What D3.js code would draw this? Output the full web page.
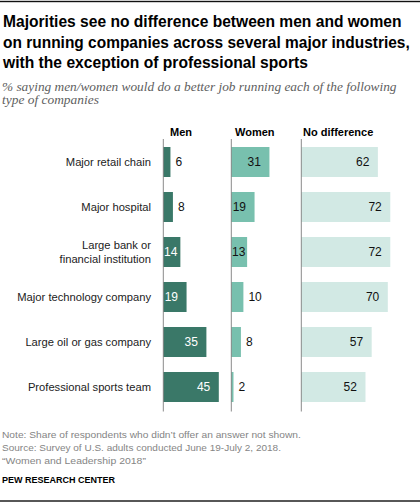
<!DOCTYPE html>
<html>
<head>
<meta charset="utf-8">
<script src="https://cdn.jsdelivr.net/npm/d3@7/dist/d3.min.js"></script>
<style>
  html, body { margin: 0; padding: 0; background: #fff; }
  svg { display: block; }
</style>
</head>
<body>
<svg id="chart" width="420" height="503"></svg>
<script>
// ---- Data ----
const categories = [
  "Major retail chain",
  "Major hospital",
  "Large bank or\nfinancial institution",
  "Major technology company",
  "Large oil or gas company",
  "Professional sports team"
];
const seriesNames = ["Men", "Women", "No difference"];
const menValues = [6, 8, 14, 19, 35, 45];
const womenValues = [31, 19, 13, 10, 8, 2];
const noDiffValues = [62, 72, 72, 70, 57, 52];

const titleLines = [
  "Majorities see no difference between men and women",
  "on running companies across several major industries,",
  "with the exception of professional sports"
];
const subtitleLines = [
  "% saying men/women would do a better job running each of the following",
  "type of companies"
];
const noteLines = [
  "Note: Share of respondents who didn\u2019t offer an answer not shown.",
  "Source: Survey of U.S. adults conducted June 19-July 2, 2018.",
  "\u201cWomen and Leadership 2018\u201d"
];
const sourceLabel = "PEW RESEARCH CENTER";

// ---- Layout ----
const W = 420, H = 503;
const svg = d3.select("#chart");
const sans = "'Liberation Sans', Arial, sans-serif";
const serif = "'Liberation Serif', 'Times New Roman', serif";

// fit a text line horizontally to a target width by scaling
function fitLines(lines, opts) {
  const g = svg.append("g");
  lines.forEach((ln, i) => {
    const wrap = g.append("g");
    const t = wrap.append("text")
      .attr("x", 0).attr("y", 0)
      .attr("font-family", opts.family).attr("font-size", opts.size)
      .attr("font-weight", opts.weight || "normal")
      .attr("font-style", opts.style || "normal")
      .attr("fill", opts.fill)
      .text(ln);
    const len = t.node().getComputedTextLength();
    const sx = opts.widths[i] / len;
    wrap.attr("transform", `translate(${opts.x},${opts.y0 + i * opts.lh}) scale(${sx},1)`);
  });
}

const series = [
  { name: seriesNames[0], values: menValues, x0: 163, color: "#3a7868", inText: "#fff", headDx: 7 },
  { name: seriesNames[1], values: womenValues, x0: 231, color: "#78c0ae", inText: "#111", headDx: 4 },
  { name: seriesNames[2], values: noDiffValues, x0: 301, color: "#d2e9e4", inText: "#111", headDx: 2 }
];

const y = d3.scaleBand().domain(categories).range([139.5, 409.5])
  .paddingInner(1/3).paddingOuter(1/6);
const x = d3.scaleLinear().domain([0, 100]).range([0, 124]);

// Rules top and bottom
svg.append("rect").attr("x", 0).attr("y", 0.8).attr("width", W).attr("height", 1.4).attr("fill", "#111");
svg.append("rect").attr("x", 0).attr("y", 500.3).attr("width", W).attr("height", 1.4).attr("fill", "#111");

// Title
fitLines(titleLines, { family: sans, size: 17, weight: "bold", fill: "#000",
  x: 3, y0: 27.3, lh: 20.2, widths: [399, 407, 305] });

// Subtitle
fitLines(subtitleLines, { family: serif, size: 13, style: "italic", fill: "#606060",
  x: 2, y0: 90.5, lh: 13.6, widths: [395, 97] });

// Category labels
const catG = svg.append("g");
categories.forEach(c => {
  const lines = c.split("\n");
  const cy = y(c) + y.bandwidth() / 2;
  const t = catG.append("text")
    .attr("text-anchor", "end")
    .attr("font-family", sans).attr("font-size", 11.2).attr("fill", "#222");
  lines.forEach((ln, i) => {
    const off = lines.length === 1 ? 3.8 : (i === 0 ? -2.6 : 10.6);
    t.append("tspan").attr("x", 151).attr("y", cy + off).text(ln);
  });
});

// Bars, axes, labels per series
series.forEach(s => {
  const g = svg.append("g");
  g.selectAll("rect").data(s.values).join("rect")
    .attr("x", s.x0)
    .attr("y", (d, i) => y(categories[i]))
    .attr("width", d => x(d))
    .attr("height", y.bandwidth())
    .attr("fill", s.color);

  // header
  g.append("text")
    .attr("x", s.x0 + s.headDx).attr("y", 136)
    .attr("font-family", sans).attr("font-weight", "bold").attr("font-size", 11)
    .attr("fill", "#000").text(s.name);

  // axis line
  g.append("line")
    .attr("x1", s.x0 + 0.3).attr("x2", s.x0 + 0.3)
    .attr("y1", y.range()[0] - 0.5).attr("y2", y.range()[1] + 2)
    .attr("stroke", "#8a8a8a").attr("stroke-width", 1);

  // value labels
  s.values.forEach((v, i) => {
    const cy = y(categories[i]) + y.bandwidth() / 2;
    const end = s.x0 + x(v);
    const t = g.append("text")
      .attr("font-family", sans).attr("font-size", 12)
      .attr("y", cy + 4.2).text(v);
    const tw = t.node().getComputedTextLength();
    if (v >= 12) {
      const xe = Math.max(end - 8.5, s.x0 + 1 + tw);
      t.attr("x", xe).attr("text-anchor", "end").attr("fill", s.inText);
    } else {
      t.attr("x", end + 5).attr("text-anchor", "start").attr("fill", "#111");
    }
  });
});

// Notes
fitLines(noteLines, { family: sans, size: 9.8, fill: "#858585",
  x: 2, y0: 438, lh: 13.2, widths: [299, 279, 144] });

svg.append("text")
  .attr("x", 2).attr("y", 483.3)
  .attr("font-family", sans).attr("font-weight", "bold").attr("font-size", 9)
  .attr("fill", "#000").text(sourceLabel);
</script>
</body>
</html>
